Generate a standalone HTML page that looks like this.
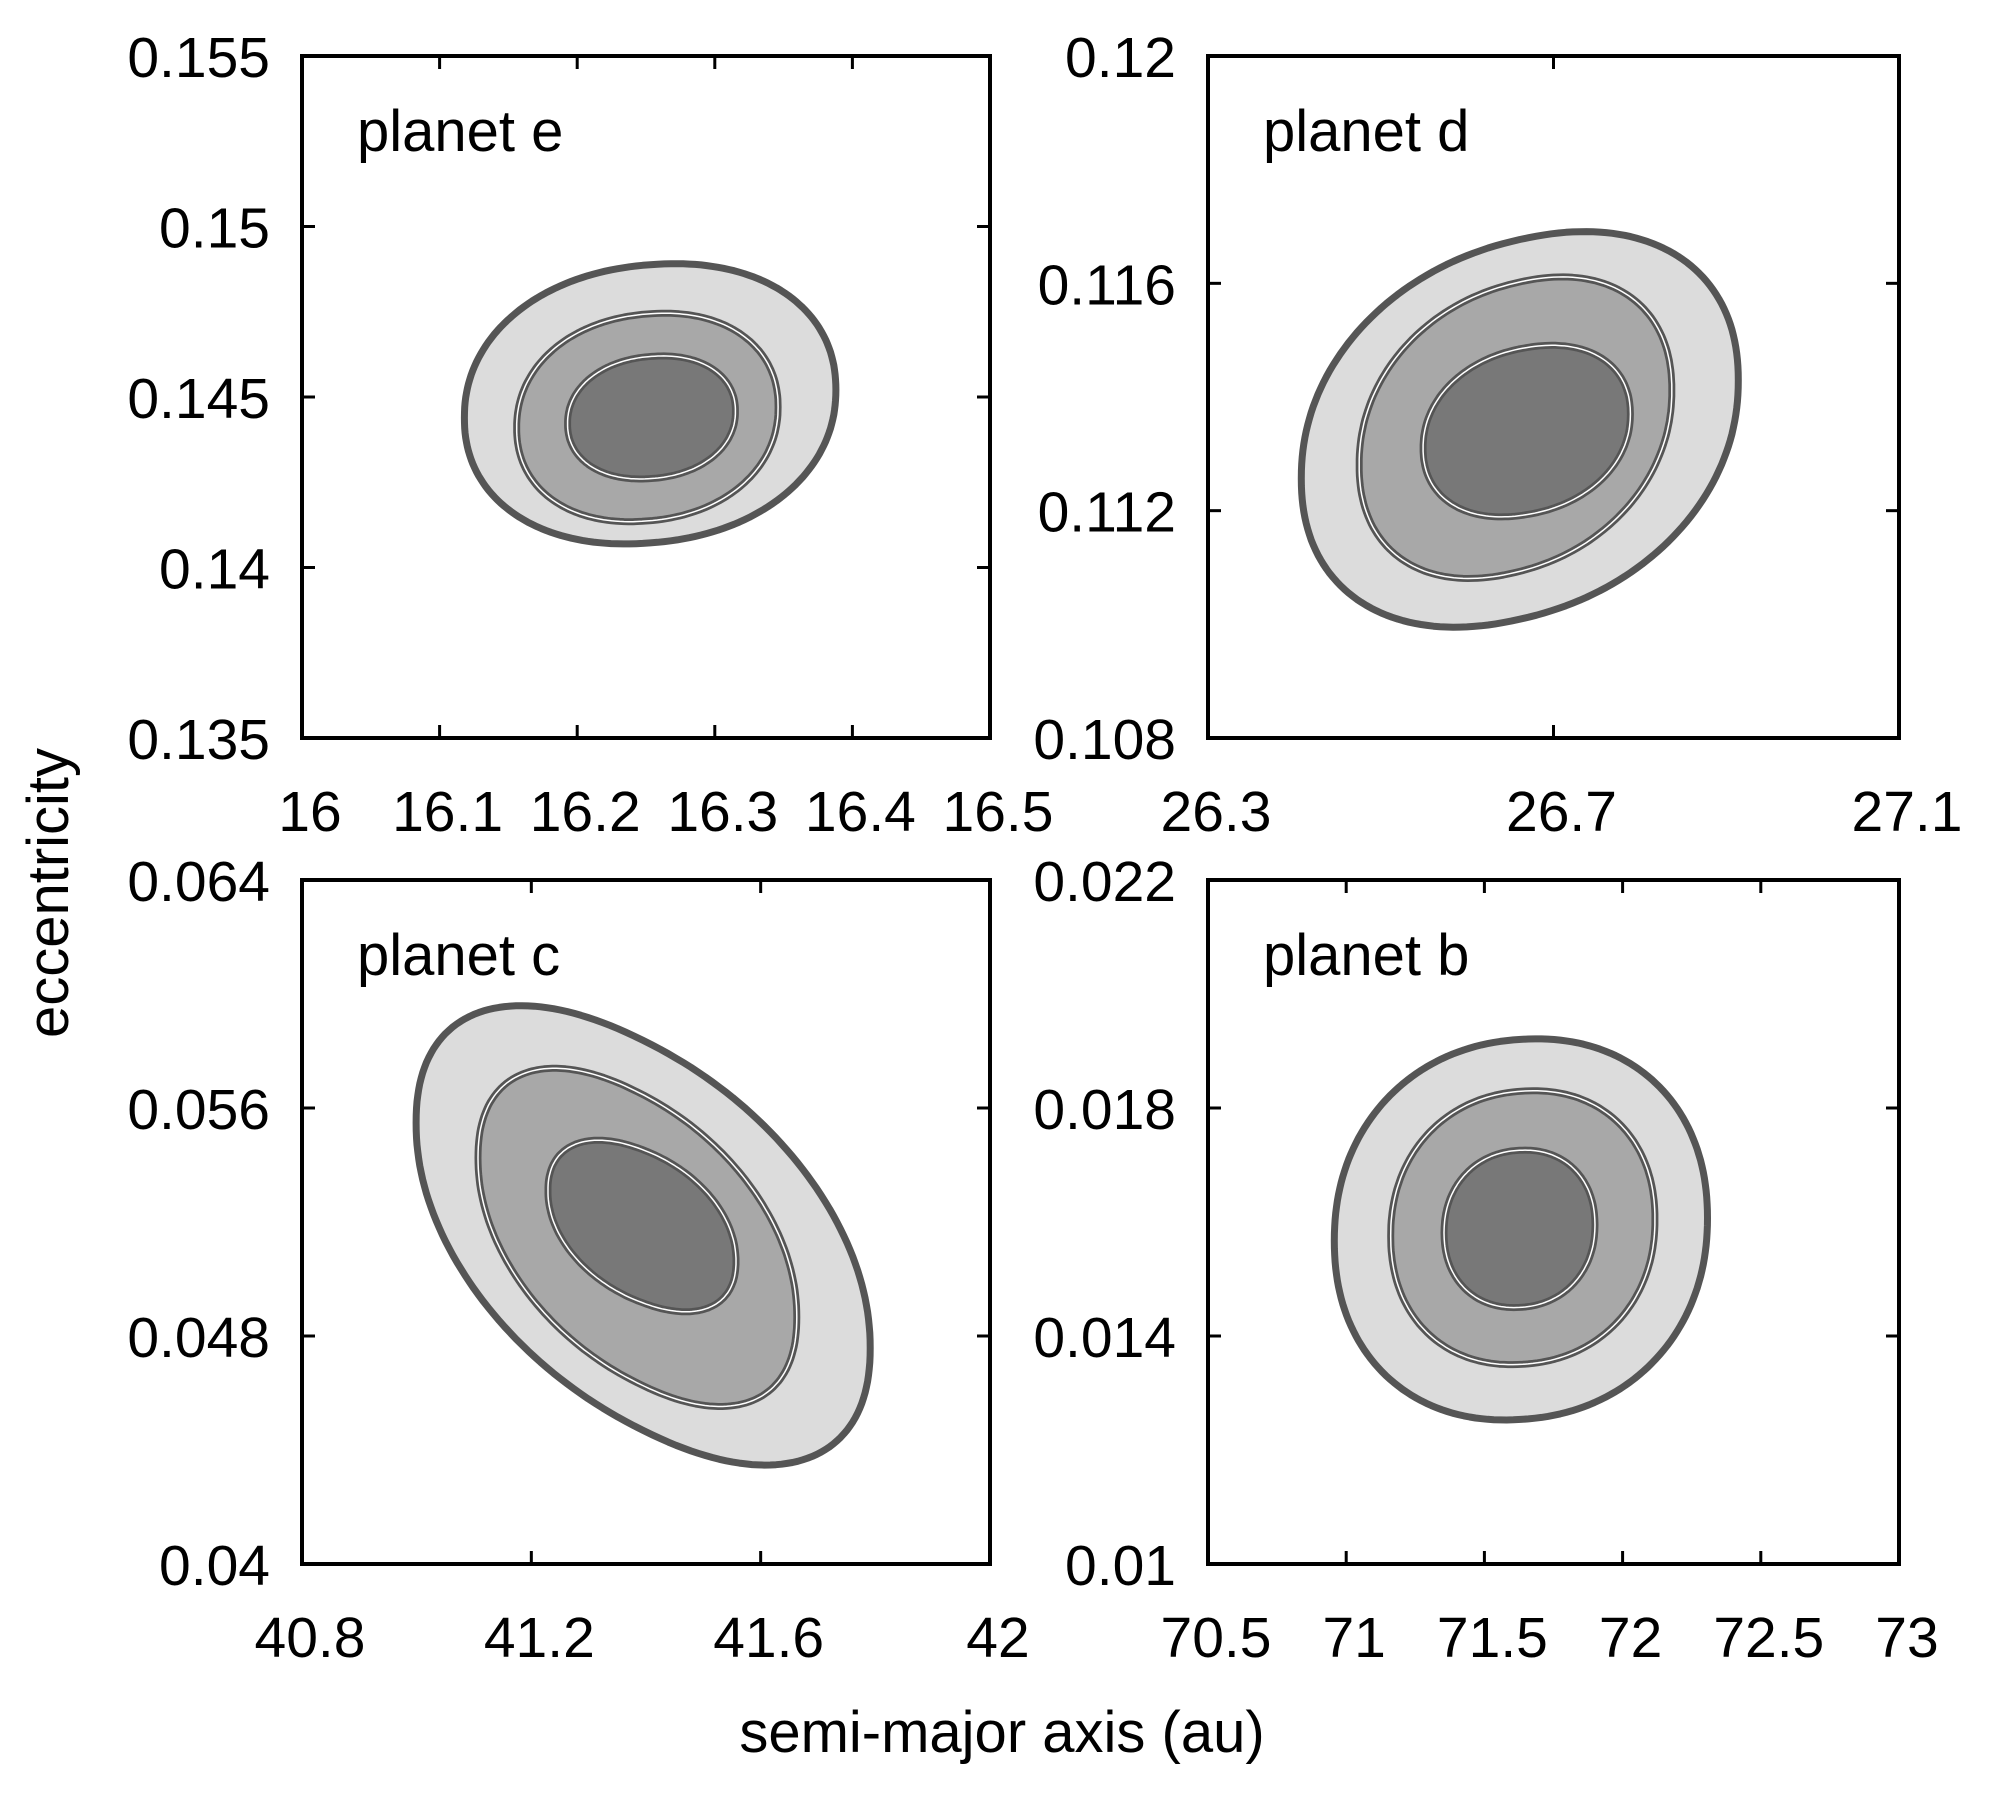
<!DOCTYPE html>
<html><head><meta charset="utf-8"><style>
html,body{margin:0;padding:0;background:#fff}
svg{display:block}
text{font-family:"Liberation Sans",sans-serif;fill:#000}
</style></head><body>
<svg id="chart" width="2000" height="1800" viewBox="0 0 2000 1800">
<text x="1002" y="1752" font-size="58" text-anchor="middle">semi-major axis (au)</text>
<text transform="translate(68,893) rotate(-90)" font-size="58" text-anchor="middle">eccentricity</text>
</svg>
<script>
// panel data
const panelNames = ["planet e","planet d","planet c","planet b"];
const xDomains = [[16,16.5],[26.3,27.1],[40.8,42],[70.5,73]];
const yDomains = [[0.135,0.155],[0.108,0.12],[0.04,0.064],[0.01,0.022]];
const xTicks = [[16,16.1,16.2,16.3,16.4,16.5],[26.3,26.7,27.1],[40.8,41.2,41.6,42],[70.5,71,71.5,72,72.5,73]];
const xTickLabels = [["16","16.1","16.2","16.3","16.4","16.5"],["26.3","26.7","27.1"],["40.8","41.2","41.6","42"],["70.5","71","71.5","72","72.5","73"]];
const yTicks = [[0.135,0.14,0.145,0.15,0.155],[0.108,0.112,0.116,0.12],[0.04,0.048,0.056,0.064],[0.01,0.014,0.018,0.022]];
const yTickLabels = [["0.135","0.14","0.145","0.15","0.155"],["0.108","0.112","0.116","0.12"],["0.04","0.048","0.056","0.064"],["0.01","0.014","0.018","0.022"]];
// contour levels per panel: [outer, mid, inner]; centers, radii (data units), correlation
const centerA = [[16.253,16.251,16.254],[26.661,26.656,26.669],[41.395,41.385,41.393],[71.632,71.639,71.627]];
const centerE = [[0.1448,0.1444,0.1444],[0.11343,0.11346,0.1134],[0.05153,0.05146,0.05186],[0.01587,0.0159,0.01588]];
const radiusA = [[0.135,0.095,0.061],[0.253,0.181,0.12],[0.396,0.278,0.164],[0.675,0.478,0.273]];
const radiusE = [[0.0041,0.00305,0.0018],[0.00345,0.00263,0.0015],[0.0079,0.00582,0.00296],[0.00334,0.0024,0.00138]];
const correl = [[0.1,0.1,0.1],[0.25,0.25,0.2],[-0.5,-0.48,-0.42],[0.06,0.06,0.05]];

const NS="http://www.w3.org/2000/svg";
const svg=document.getElementById("chart");
const boxes=[[302,56,990,738],[1208,56,1899,738],[302,880,990,1564],[1208,880,1899,1564]];
const fills=["#dcdcdc","#a8a8a8","#787878"];
function mk(tag,attrs,parent){const e=document.createElementNS(NS,tag);for(const k in attrs)e.setAttribute(k,attrs[k]);(parent||svg).appendChild(e);return e;}
function spow(c,p){return Math.sign(c)*Math.pow(Math.abs(c),p);}
boxes.forEach((b,p)=>{
  const [x0,y0,x1,y1]=b;
  const g=mk("g",{});
  
  
  const sx=v=>x0+(v-xDomains[p][0])/(xDomains[p][1]-xDomains[p][0])*(x1-x0);
  const sy=v=>y1-(v-yDomains[p][0])/(yDomains[p][1]-yDomains[p][0])*(y1-y0);
  for(let l=0;l<3;l++){
    let d="";
    for(let i=0;i<=200;i++){
      const t=i/200*2*Math.PI, r=correl[p][l];
      const ct=spow(Math.cos(t),0.93), st=spow(Math.sin(t),0.93);
      const a=centerA[p][l]+radiusA[p][l]*ct;
      const e=centerE[p][l]+radiusE[p][l]*(r*ct+Math.sqrt(1-r*r)*st);
      d+=(i?"L":"M")+sx(a).toFixed(1)+","+sy(e).toFixed(1);
    }
    d+="Z";
    const c=mk("path",{d:d,fill:fills[l],stroke:"#555",'stroke-width':7,'stroke-linejoin':'round'},g);
    
    
    if(l>0){const w=mk("path",{d:d,fill:"none",stroke:"#fff",'stroke-width':1.5},g);
      
      }
  }
  const fr=mk("rect",{x:x0,y:y0,width:x1-x0,height:y1-y0,fill:"none",stroke:"#000",'stroke-width':4},g);
  
  
  xTicks[p].forEach((v,i)=>{
    const x=sx(v);
    mk("line",{x1:x,x2:x,y1:y1,y2:y1-13,stroke:"#000",'stroke-width':3},g);
    mk("line",{x1:x,x2:x,y1:y0,y2:y0+13,stroke:"#000",'stroke-width':3},g);
    const t=mk("text",{x:x+8,y:y1+93,'font-size':57,'text-anchor':'middle'},g);
    t.textContent=xTickLabels[p][i];
    
    
  });
  yTicks[p].forEach((v,i)=>{
    const y=sy(v);
    mk("line",{x1:x0,x2:x0+13,y1:y,y2:y,stroke:"#000",'stroke-width':3},g);
    mk("line",{x1:x1,x2:x1-13,y1:y,y2:y,stroke:"#000",'stroke-width':3},g);
    const t=mk("text",{x:x0-32,y:y+21,'font-size':57,'text-anchor':'end'},g);
    t.textContent=yTickLabels[p][i];
    
    
  });
  const lb=mk("text",{x:x0+55,y:y0+95,'font-size':58},g);
  lb.textContent=panelNames[p];
  
  
});
</script>
</body></html>
